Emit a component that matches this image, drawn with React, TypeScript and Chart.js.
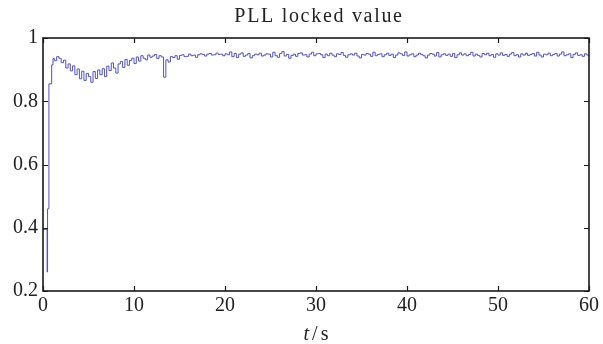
import React, { useEffect, useRef } from "react";
import { Chart, registerables } from "chart.js";

Chart.register(...registerables);

const TITLE = "PLL locked value";
const X_TICKS = [0, 10, 20, 30, 40, 50, 60];
const Y_TICKS = [0.2, 0.4, 0.6, 0.8, 1];

// start-up transient (explicit times, seconds)
const startTimes = [0, 0.45, 0.5, 0.65, 0.95, 1.1];
const startValues = [0.395, 0.26, 0.46, 0.855, 0.915, 0.935];

// regular samples every 0.25 s from t = 1.25 s
const SAMPLE_START = 1.25;
const SAMPLE_STEP = 0.25;

// t = 1.25 .. 14.0 s
const rampValues = [
  0.928, 0.941, 0.936, 0.922,
  0.930, 0.905, 0.918, 0.896,
  0.912, 0.884, 0.902, 0.871,
  0.895, 0.866, 0.888, 0.878,
  0.860, 0.894, 0.872, 0.899,
  0.884, 0.903, 0.878, 0.911,
  0.897, 0.921, 0.905, 0.889,
  0.918, 0.926, 0.907, 0.932,
  0.914, 0.929, 0.936, 0.919,
  0.940, 0.927, 0.944, 0.936,
  0.931, 0.946, 0.939, 0.943,
  0.948, 0.935, 0.944, 0.940,
  0.876, 0.931, 0.924, 0.941,
];

// t = 14.25 .. 60 s
const steadyValues = [
  0.938, 0.944, 0.933, 0.945,
  0.947, 0.941, 0.942, 0.949,
  0.944, 0.946, 0.939, 0.947,
  0.950, 0.948, 0.943, 0.949,
  0.951, 0.946, 0.947, 0.952,
  0.948, 0.949, 0.944, 0.950,
  0.947, 0.956, 0.941, 0.951,
  0.938, 0.949, 0.953, 0.942,
  0.946, 0.951, 0.937, 0.944,
  0.949, 0.947, 0.952, 0.943,
  0.946, 0.950, 0.949, 0.940,
  0.955, 0.944, 0.939, 0.951,
  0.957, 0.943, 0.948, 0.936,
  0.945, 0.949, 0.942, 0.951,
  0.953, 0.946, 0.947, 0.940,
  0.949, 0.955, 0.944, 0.950,
  0.951, 0.947, 0.938, 0.949,
  0.944, 0.952, 0.946, 0.941,
  0.950, 0.948, 0.954, 0.945,
  0.939, 0.947, 0.950, 0.946,
  0.952, 0.943, 0.937, 0.948,
  0.946, 0.951, 0.949, 0.942,
  0.955, 0.944, 0.948, 0.950,
  0.941, 0.947, 0.952, 0.945,
  0.949, 0.938, 0.946, 0.953,
  0.950, 0.945, 0.956, 0.943,
  0.947, 0.950, 0.941, 0.946,
  0.952, 0.948, 0.944, 0.937,
  0.946, 0.951, 0.949, 0.943,
  0.954, 0.940, 0.947, 0.950,
  0.945, 0.949, 0.942, 0.951,
  0.938, 0.947, 0.953, 0.946,
  0.950, 0.944, 0.948, 0.955,
  0.943, 0.949, 0.945, 0.940,
  0.951, 0.947, 0.952, 0.944,
  0.948, 0.939, 0.950, 0.946,
  0.953, 0.945, 0.948, 0.942,
  0.949, 0.954, 0.944, 0.947,
  0.940, 0.950, 0.946, 0.952,
  0.945, 0.948, 0.951, 0.943,
  0.955, 0.946, 0.940, 0.949,
  0.947, 0.952, 0.944, 0.948,
  0.951, 0.943, 0.949, 0.956,
  0.944, 0.947, 0.950, 0.938,
  0.948, 0.953, 0.945, 0.947,
  0.942, 0.950, 0.946, 0.944,
];

const FONT_FAMILY = '"Liberation Serif", "Times New Roman", serif';
const TEXT_COLOR = "#222222";
const LINE_COLOR = "#5252c8";

function buildPoints() {
  const pts: { x: number; y: number }[] = [];
  startTimes.forEach((t, i) => pts.push({ x: t, y: startValues[i] }));
  const sampled = rampValues.concat(steadyValues);
  sampled.forEach((v, i) => pts.push({ x: SAMPLE_START + i * SAMPLE_STEP, y: v }));
  return pts;
}

const framePlugin = {
  id: "frame",
  afterDraw(chart: any) {
    const { ctx, chartArea: a, scales } = chart;
    ctx.save();
    ctx.strokeStyle = "#1a1a1a";
    ctx.lineWidth = 1.6;
    ctx.strokeRect(a.left, a.top, a.right - a.left, a.bottom - a.top);
    const L = 5;
    ctx.lineWidth = 1.2;
    ctx.beginPath();
    scales.x.ticks.forEach((t: any) => {
      const px = Math.round(scales.x.getPixelForValue(t.value)) + 0.5;
      ctx.moveTo(px, a.bottom);
      ctx.lineTo(px, a.bottom - L);
      ctx.moveTo(px, a.top);
      ctx.lineTo(px, a.top + L);
    });
    scales.y.ticks.forEach((t: any) => {
      const py = Math.round(scales.y.getPixelForValue(t.value)) + 0.5;
      ctx.moveTo(a.left, py);
      ctx.lineTo(a.left + L, py);
      ctx.moveTo(a.right, py);
      ctx.lineTo(a.right - L, py);
    });
    ctx.stroke();

    // title
    ctx.fillStyle = TEXT_COLOR;
    ctx.font = `20px ${FONT_FAMILY}`;
    ctx.letterSpacing = "1.7px";
    ctx.textAlign = "center";
    ctx.textBaseline = "alphabetic";
    ctx.fillText(TITLE, (a.left + a.right) / 2 + 3, 22);

    // x axis title: italic t / s
    ctx.letterSpacing = "0px";
    const cx = (a.left + a.right) / 2;
    const base = 340;
    ctx.textAlign = "left";
    ctx.font = `italic 20px ${FONT_FAMILY}`;
    const tW = ctx.measureText("t").width;
    ctx.font = `20px ${FONT_FAMILY}`;
    const slW = ctx.measureText("/").width;
    const sW = ctx.measureText("s").width;
    const gap = 3;
    const total = tW + gap + slW + gap + sW;
    let x0 = cx - total / 2;
    ctx.font = `italic 20px ${FONT_FAMILY}`;
    ctx.fillText("t", x0, base);
    x0 += tW + gap;
    ctx.font = `20px ${FONT_FAMILY}`;
    ctx.fillText("/", x0, base);
    x0 += slW + gap;
    ctx.fillText("s", x0, base);
    ctx.restore();
  },
};

export default function App() {
  const canvasRef = useRef<HTMLCanvasElement | null>(null);

  useEffect(() => {
    if (!canvasRef.current) return;
    const chart = new Chart(canvasRef.current, {
      type: "line",
      data: {
        datasets: [
          {
            data: buildPoints(),
            borderColor: LINE_COLOR,
            borderWidth: 1,
            pointRadius: 0,
            stepped: true,
            fill: false,
          },
        ],
      },
      options: {
        responsive: false,
        animation: false,
        layout: { padding: { top: 38, right: 14, left: 0, bottom: 0 } },
        plugins: {
          legend: { display: false },
          title: { display: false },
          tooltip: { enabled: false },
        },
        scales: {
          x: {
            type: "linear",
            min: 0,
            max: 60,
            afterBuildTicks: (s: any) => {
              s.ticks = X_TICKS.map((v) => ({ value: v }));
            },
            afterFit: (s: any) => {
              s.height = 53;
            },
            grid: { display: false, drawTicks: false },
            border: { display: false },
            ticks: {
              padding: 3,
              color: TEXT_COLOR,
              font: { family: FONT_FAMILY, size: 20 },
              maxRotation: 0,
              autoSkip: false,
            },
          },
          y: {
            type: "linear",
            min: 0.2,
            max: 1,
            afterBuildTicks: (s: any) => {
              s.ticks = Y_TICKS.map((v) => ({ value: v }));
            },
            afterFit: (s: any) => {
              s.width = 43;
            },
            grid: { display: false, drawTicks: false },
            border: { display: false },
            ticks: {
              padding: 5,
              color: TEXT_COLOR,
              font: { family: FONT_FAMILY, size: 20 },
              callback: (v: any) => String(Math.round(Number(v) * 10) / 10),
            },
          },
        },
      },
      plugins: [framePlugin],
    });
    return () => chart.destroy();
  }, []);

  return (
    <div style={{ position: "absolute", left: 0, top: 0, width: 603, height: 344, background: "#fff" }}>
      <canvas ref={canvasRef} width={603} height={344} />
    </div>
  );
}
